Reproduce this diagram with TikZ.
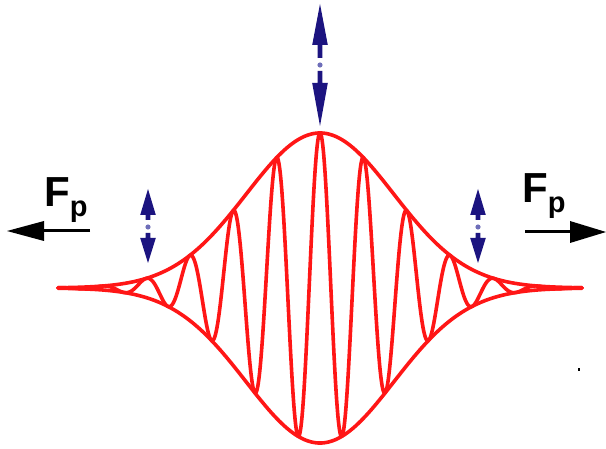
\documentclass[tikz,border=0pt]{standalone}
\usepackage{fontspec}
\setmainfont{Liberation Sans}
\definecolor{navy}{RGB}{28,20,128}
\definecolor{wavered}{RGB}{255,22,22}
\definecolor{dotblue}{RGB}{110,110,185}
\tikzset{
  wave/.style={wavered, line width=3.6pt, line join=round, line cap=round},
  forcelabel/.style={anchor=base west, inner sep=0pt, font=\bfseries\fontsize{42}{42}\selectfont},
  forceline/.style={black, line width=3pt},
}
% x, top tip, top head base, top shaft end, dot y, bottom shaft start, bottom head base, bottom tip
\newcommand{\vibarrow}[8]{%
  \fill[navy] (#1,#2) -- ({#1-7.8},#3) -- ({#1-2.4},#3) -- ({#1-2.4},#4) -- ({#1+2.4},#4) -- ({#1+2.4},#3) -- ({#1+7.8},#3) -- cycle;
  \fill[navy] (#1,#8) -- ({#1-7.8},#7) -- ({#1-2.4},#7) -- ({#1-2.4},#6) -- ({#1+2.4},#6) -- ({#1+2.4},#7) -- ({#1+7.8},#7) -- cycle;
  \fill[dotblue] (#1,#5) circle (2.6);
}
\begin{document}
\begin{tikzpicture}[x=1pt,y=-1pt]
\useasboundingbox (0,0) rectangle (606,449);
% envelopes and carrier
\draw[wave] plot[domain=58:582, samples=200] (\x, {288 - 155*exp(-((\x-320)/100)^2/1.086)});
\draw[wave] plot[domain=58:582, samples=200] (\x, {288 + 155*exp(-((\x-320)/100)^2/1.086)});
\draw[wave] plot[domain=58:582, samples=900, smooth] (\x, {288 - 155*exp(-((\x-320)/100)^2/1.086)*cos(8.2759*(\x-320))});
% vibration arrows
\vibarrow{320}{4}{45}{58}{65}{71}{83}{126}
\vibarrow{148}{189}{215}{220}{227}{233}{238}{263}
\vibarrow{478}{189}{215}{220}{227}{233}{238}{263}
% force labels
\node[forcelabel] (fl) at (44,207) {F\raisebox{-10pt}{\fontsize{29}{29}\selectfont p}};
\node[forcelabel] (fr) at (522,203) {F\raisebox{-10pt}{\fontsize{29}{29}\selectfont p}};
% force arrows
\coordinate (la) at (90,231);
\coordinate (lb) at (44,231);
\coordinate (lt) at (7,231);
\draw[forceline] (la) -- (lb);
\fill[black] (lt) -- ([yshift=-10pt]lb) -- ([yshift=10pt]lb) -- cycle;
\coordinate (ra) at (525,232);
\coordinate (rb) at (570,232);
\coordinate (rt) at (606,232);
\draw[forceline] (ra) -- (rb);
\fill[black] (rt) -- ([yshift=-11pt]rb) -- ([yshift=11pt]rb) -- cycle;
% tiny mark
\fill[black] (578,368) rectangle (580,371);
\end{tikzpicture}
\end{document}
